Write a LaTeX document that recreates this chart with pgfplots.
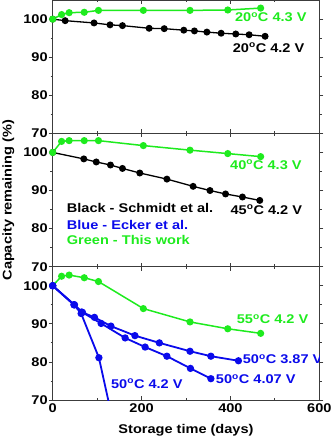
\documentclass[border=0pt]{standalone}
\usepackage{fontspec}
\setmainfont[FakeStretch=1.15]{Liberation Sans}
\usepackage{pgfplots}
\pgfplotsset{compat=1.18}
\definecolor{mygreen}{RGB}{30,235,30}
\definecolor{myblue}{RGB}{10,10,235}
\definecolor{axgray}{RGB}{60,60,60}
\newcommand{\dg}{\textsuperscript{o}}
\newcommand{\lbl}{\fontsize{12.7}{14}\selectfont\bfseries}
\pgfplotsset{
 panel/.style={
  scale only axis, width=266.6bp, height=133.3bp,
  xmin=0,xmax=600,ymin=70,ymax=105,
  xtick={0,200,400,600}, minor x tick num=1,
  ytick={70,80,90,100}, minor y tick num=1,
  xtick align=inside, ytick align=outside,
  major tick length=4bp, minor tick length=2.2bp,
  axis line style={axgray, line width=0.9bp},
  tick style={axgray, line width=0.8bp},
  tick label style={font=\lbl},
  yticklabel style={xshift=2.5bp},
  /pgf/number format/assume math mode=true,
  anchor=south west,
 },
 blk/.style={black, line width=1.3bp, mark=*, mark size=2.8bp, mark options={solid,fill=black}},
 grn/.style={mygreen, line width=1.5bp, mark=*, mark size=2.8bp, mark options={solid,fill=mygreen}},
 blu/.style={myblue, line width=1.8bp, mark=*, mark size=2.7bp, mark options={solid,fill=myblue}},
}
\begin{document}
\begin{tikzpicture}
% top panel
\begin{axis}[panel, at={(0,266.6bp)}, xticklabels={}]
\addplot[blk] coordinates {(0,100)(28,99.6)(93,99.0)(129,98.5)(157,98.3)(217,97.6)(251,97.5)(295,97.1)(319,96.9)(347,96.6)(379,96.3)(412,96.1)(442,95.9)(478,95.5)};
\addplot[grn] coordinates {(0,100)(20,101.2)(37,101.7)(71,101.8)(103,102.3)(204,102.3)(309,102.3)(394,102.4)(468,102.9)};
\node[anchor=mid west, text=mygreen, font=\lbl, inner sep=0pt] at (axis cs:410,100) {20\dg C 4.3 V};
\node[anchor=mid west, text=black, font=\lbl, inner sep=0pt] at (axis cs:405,92.06) {20\dg C 4.2 V};
\end{axis}
% middle panel
\begin{axis}[panel, at={(0,133.3bp)}, xticklabels={},
  ylabel={Capacity remaining (\%)},
  every axis y label/.style={at={(axis description cs:-0.1665,0.5)}, rotate=90, anchor=center, font=\lbl}]
\addplot[blk] coordinates {(0,100)(70,98.3)(98,97.5)(130,96.7)(157,95.8)(196,94.6)(257,93.0)(316,91.1)(354,90.0)(389,89.1)(427,88.3)(466,87.4)};
\addplot[grn] coordinates {(0,100)(20,102.9)(37,103.1)(71,103.1)(103,103.1)(204,101.8)(309,100.6)(394,99.7)(468,98.9)};
\node[anchor=mid west, text=mygreen, font=\lbl, inner sep=0pt] at (axis cs:399,96.3) {40\dg C 4.3 V};
\node[anchor=mid west, text=black, font=\lbl, inner sep=0pt] at (axis cs:400,84.5) {45\dg C 4.2 V};
\node[anchor=mid west, text=black, font=\lbl, inner sep=0pt] at (axis cs:31.5,84.9) {Black - Schmidt et al.};
\node[anchor=mid west, text=myblue, font=\lbl, inner sep=0pt] at (axis cs:31.5,80.5) {Blue - Ecker et al.};
\node[anchor=mid west, text=mygreen, font=\lbl, inner sep=0pt] at (axis cs:31.5,76.4) {Green - This work};
\end{axis}
% bottom panel
\begin{axis}[panel, at={(0,0)},
  xlabel={Storage time (days)},
  every axis x label/.style={at={(axis description cs:0.5,0)}, anchor=center, yshift=-30bp, font=\lbl}]
\addplot[grn] coordinates {(0,100)(20,102.5)(37,102.8)(71,102.1)(103,101.1)(204,94.0)(309,90.5)(394,88.7)(468,87.5)};
\addplot[blu] coordinates {(0,100)(48,95.0)(65,93.1)(94,91.7)(131,89.4)(185,86.9)(240,85.0)(309,82.8)(356,81.5)(418,80.3)};
\addplot[blu] coordinates {(0,100)(49,95.0)(67,93.0)(109,90.1)(163,86.3)(208,83.9)(257,81.5)(310,78.3)(356,75.6)};
\addplot[blu, mark indices={1,2,3,4}] coordinates {(0,100)(48,95.0)(64,92.7)(104,81.1)(145,59.4)};
\node[anchor=mid west, text=mygreen, font=\lbl, inner sep=0pt] at (axis cs:414,90.7) {55\dg C 4.2 V};
\node[anchor=mid west, text=myblue, font=\lbl, inner sep=0pt] at (axis cs:427.5,80.2) {50\dg C 3.87 V};
\node[anchor=mid west, text=myblue, font=\lbl, inner sep=0pt] at (axis cs:367,75.0) {50\dg C 4.07 V};
\node[anchor=mid west, text=myblue, font=\lbl, inner sep=0pt] at (axis cs:131,73.8) {50\dg C 4.2 V};
\end{axis}
\pgfresetboundingbox
\path (-52.7bp,-40bp) rectangle (279.3bp,400bp);
\end{tikzpicture}
\end{document}
